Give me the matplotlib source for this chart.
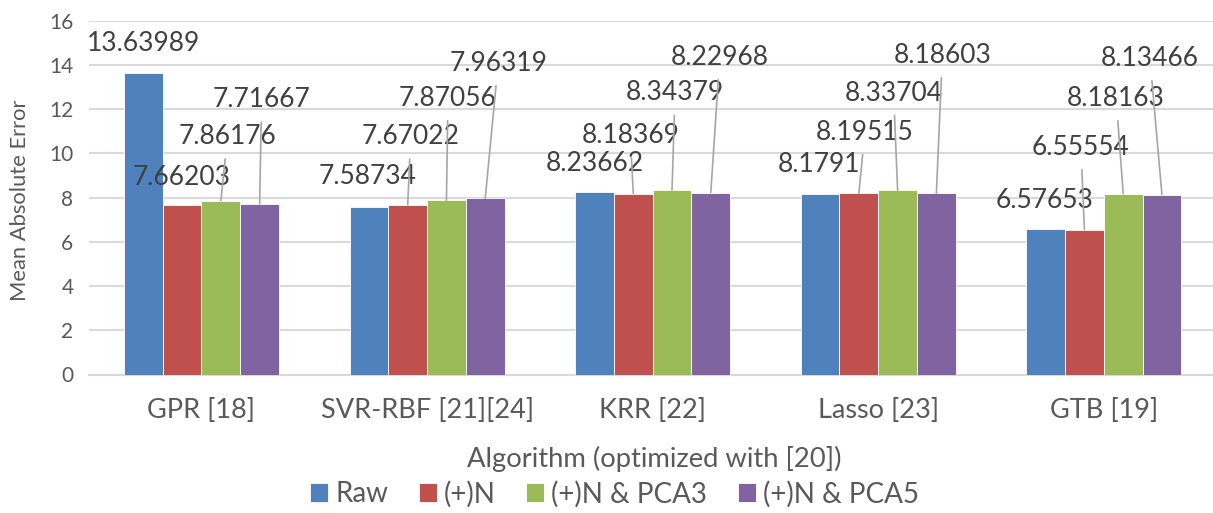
import matplotlib
matplotlib.use("Agg")
import matplotlib.pyplot as plt
import numpy as np

categories = ["GPR [18]", "SVR-RBF [21][24]", "KRR [22]", "Lasso [23]", "GTB [19]"]
series_names = ["Raw", "(+)N", "(+)N & PCA3", "(+)N & PCA5"]
raw = [13.63989, 7.58734, 8.23662, 8.1791, 6.57653]
norm = [7.66203, 7.67022, 8.18369, 8.19515, 6.55554]
pca3 = [7.86176, 7.87056, 8.34379, 8.33704, 8.18163]
pca5 = [7.71667, 7.96319, 8.22968, 8.18603, 8.13466]
label_texts = [
    ["13.63989", "7.58734", "8.23662", "8.1791", "6.57653"],
    ["7.66203", "7.67022", "8.18369", "8.19515", "6.55554"],
    ["7.86176", "7.87056", "8.34379", "8.33704", "8.18163"],
    ["7.71667", "7.96319", "8.22968", "8.18603", "8.13466"],
]
yticks = [0, 2, 4, 6, 8, 10, 12, 14, 16]

colors = ["#4F81BD", "#C0504D", "#9BBB59", "#8064A2"]
# label offsets in pixels (dx, dy upward) from bar top, per series per category
offsets = [
    [(0, 29), (-1, 30), (0, 29), (-1, 29), (-1, 29)],
    [(0, 28), (3, 68), (-3, 58), (6, 61), (-3.5, 82)],
    [(6.6, 64), (1.5, 102), (3, 97), (-4, 97), (-7, 95)],
    [(2, 104), (13, 135), (9, 135), (6, 138), (-12, 136)],
]

W, H = 1213, 513
fig = plt.figure(figsize=(W / 100, H / 100), dpi=100)
ax = fig.add_axes([88.7 / W, 1 - 374.5 / H, 1127.9 / W, (374.5 - 20.7) / H])

FONT = "Lato"
data = [raw, norm, pca3, pca5]
x = np.arange(len(categories))
bw = 0.1718
for i, (vals, c, name) in enumerate(zip(data, colors, series_names)):
    xs = x + (i - 1.5) * bw
    ax.bar(xs, vals, width=bw, color=c, edgecolor="white", linewidth=0.6,
           label=name, zorder=3)
    for j, v in enumerate(vals):
        dx, dy = offsets[i][j]
        ap = None
        if dy > 40:
            ap = dict(arrowstyle="-", color="#A6A6A6", lw=1.2,
                      shrinkA=5, shrinkB=0)
        ax.annotate(label_texts[i][j], xy=(xs[j], v), xytext=(dx, dy),
                    textcoords="offset pixels", ha="center", va="center",
                    fontsize=19, color="#404040", family=FONT,
                    arrowprops=ap, zorder=5)

ax.set_xlim(-0.5, len(categories) - 0.5)
ax.set_ylim(0, 16)
ax.set_yticks(yticks)
ax.set_xticks(x)
ax.set_xticklabels(categories, fontsize=19.5, color="#595959", family=FONT)
for t in ax.get_yticklabels():
    t.set_fontsize(15)
    t.set_color("#595959")
    t.set_family(FONT)
ax.tick_params(axis="both", length=0)
ax.tick_params(axis="x", pad=17)
ax.tick_params(axis="y", pad=11)
ax.grid(axis="y", color="#D9D9D9", linewidth=1.5, zorder=0)
ax.set_axisbelow(True)
for s in ["top", "right", "left"]:
    ax.spines[s].set_visible(False)
ax.spines["bottom"].set_color("#D9D9D9")
ax.spines["bottom"].set_linewidth(1.5)

fig.text(20 / W, 1 - 200 / H, "Mean Absolute Error", rotation=90, ha="center",
         va="center", fontsize=15.8, color="#595959", family=FONT)
fig.text(654 / W, 1 - 459 / H, "Algorithm (optimized with [20])", ha="center",
         va="center", fontsize=19.7, color="#595959", family=FONT)
leg = fig.legend(loc="center", bbox_to_anchor=(614.5 / W, 1 - 494 / H), ncol=4,
                 frameon=False, handlelength=0.65, handleheight=0.65,
                 handletextpad=0.25, columnspacing=1.1, borderpad=0,
                 prop=dict(family=FONT, size=20))
for t in leg.get_texts():
    t.set_color("#595959")

fig.savefig("out.png", dpi=100)
